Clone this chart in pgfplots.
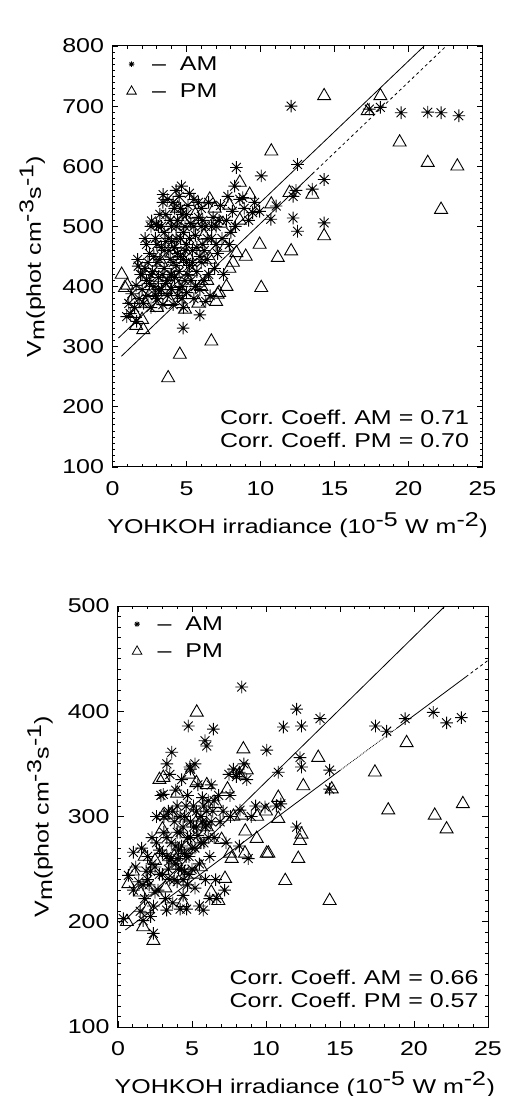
\documentclass[border=0pt]{standalone}
\usepackage{fontspec}
\setmainfont{Liberation Sans}[FakeStretch=1.25]
\usepackage{pgfplots}
\pgfplotsset{compat=1.18}

\pgfdeclareplotmark{ast8}{%
  \pgfpathmoveto{\pgfqpoint{0pt}{\pgfplotmarksize}}%
  \pgfpathlineto{\pgfqpoint{0pt}{-\pgfplotmarksize}}%
  \pgfpathmoveto{\pgfqpoint{\pgfplotmarksize}{0pt}}%
  \pgfpathlineto{\pgfqpoint{-\pgfplotmarksize}{0pt}}%
  \pgfpathmoveto{\pgfqpoint{0.707\pgfplotmarksize}{0.707\pgfplotmarksize}}%
  \pgfpathlineto{\pgfqpoint{-0.707\pgfplotmarksize}{-0.707\pgfplotmarksize}}%
  \pgfpathmoveto{\pgfqpoint{-0.707\pgfplotmarksize}{0.707\pgfplotmarksize}}%
  \pgfpathlineto{\pgfqpoint{0.707\pgfplotmarksize}{-0.707\pgfplotmarksize}}%
  \pgfusepathqstroke}

\pgfplotsset{
  panel/.style={
    scale only axis, width=370pt, height=421pt,
    xmin=0, xmax=25, xtick={0,5,...,25}, minor x tick num=4, minor y tick num=9,
    tick align=inside, tick pos=both, major tick length=6pt, minor tick length=3pt,
    axis line style={line width=1pt}, every tick/.style={black, line width=0.8pt},
    /pgf/number format/assume math mode=true,
    tick label style={font=\fontsize{20}{20}\selectfont},
    xticklabel style={yshift=-11pt},
    yticklabel style={xshift=-5pt},
    label style={font=\fontsize{20}{20}\selectfont},
    xlabel={YOHKOH irradiance\ (10$^{\textrm{-5}}$\ W\ m$^{\textrm{-2}}$)},
    ylabel={V$_{\textrm{m}}$(phot\ cm$^{\textrm{-3}}$s$^{\textrm{-1}}$)},
    legend style={draw=none, fill=none, font=\fontsize{20}{20}\selectfont,
      at={(axis description cs:0.03,0.985)}, anchor=north west, row sep=8pt},
    legend cell align=left,
  },
  am/.style={only marks, mark=ast8, mark size=6.3pt, mark options={solid, line width=0.9pt}, black},
  pm/.style={only marks, mark=triangle, mark size=7.5pt, mark options={solid, line width=0.9pt}, black},
}

\begin{document}
\begin{tikzpicture}
\useasboundingbox (0pt,0pt) rectangle (512pt,1096pt);

% ---------------- E-region ----------------
\begin{axis}[panel, at={(112.5pt,629pt)}, anchor=south west,
  ymin=100, ymax=800, ytick={100,200,...,800},
  xlabel style={at={(axis description cs:0.5,-0.138)}, anchor=center},
  ylabel style={at={(axis description cs:-0.217,0.5)}, anchor=center},
]
\addlegendimage{only marks, mark=ast8, mark size=2.8pt, mark options={line width=0.8pt}, black}
\addlegendentry{\ \ --\ \ AM}
\addlegendimage{only marks, mark=triangle, mark size=5.5pt, mark options={line width=0.8pt}, black}
\addlegendentry{\ \ --\ \ PM}

\addplot[am, forget plot] coordinates {
(12.07,700)(17.35,695)(18.1,698)(19.5,689)(21.3,690)(22.2,689)(23.4,684)
(8.37,598)(10.05,584)(12.5,603)(12.2,550)(13.5,562)(14.3,578)(12.2,514)
(12.5,492)(14.3,506)(10.7,512)(4.66,567)(3.42,553)(2.64,509)(2.3,470)
(1.74,434)(11.06,534)(9.47,523)(8.25,567)(4.77,331)(5.9,353)(0.96,350)
(1.63,342)(12.4,560)(2.98,503)(8.8,548)(9.94,525)
(1.1,372)(1.3,388)(1.5,365)(1.6,402)(1.8,380)(1.9,420)(1.2,355)(1.7,445)
(2.0,395)(2.1,372)(2.2,430)(2.3,410)(2.4,385)(2.5,455)(2.6,365)(2.7,425)(2.8,400)(2.9,480)(2.6,500)(2.2,480)
(3.0,380)(3.0,440)(3.1,415)(3.2,520)(3.3,395)(3.3,465)(3.4,370)(3.5,490)(3.5,430)(3.6,405)(3.7,545)(3.7,385)(3.8,460)(3.9,510)(3.9,420)(3.4,540)(3.1,500)
(4.0,395)(4.0,475)(4.1,440)(4.1,370)(4.2,530)(4.2,415)(4.3,500)(4.4,455)(4.4,385)(4.5,550)(4.5,425)(4.6,480)(4.7,400)(4.7,520)(4.8,445)(4.8,365)(4.9,500)(4.9,410)(4.3,560)
(5.0,470)(5.0,390)(5.1,535)(5.2,435)(5.3,505)(5.3,410)(5.4,460)(5.5,380)(5.5,545)(5.6,485)(5.7,425)(5.8,515)(5.9,450)(5.9,395)(5.2,555)
(6.0,530)(6.1,470)(6.2,410)(6.3,500)(6.4,445)(6.5,540)(6.6,385)(6.7,480)(6.8,515)(6.9,430)(6.3,375)
(7.0,500)(7.1,455)(7.3,535)(7.4,480)(7.5,420)(7.7,510)(7.8,550)(7.9,470)
(8.1,525)(8.3,500)(8.6,545)(8.9,530)(9.2,510)(8.0,490)(9.6,540)
(2.0,420)(2.4,440)(2.5,405)(2.8,450)(2.9,385)(3.0,470)(3.2,445)(3.3,500)(3.5,460)(3.6,520)(3.7,410)(3.8,480)
(3.9,445)(4.0,500)(4.0,420)(4.1,540)(4.2,465)(4.3,435)(4.4,510)(4.5,395)(4.6,450)(4.6,530)(4.8,490)(4.9,460)
(5.0,520)(5.1,420)(5.2,480)(5.4,440)(5.5,500)(5.6,400)(5.7,465)(5.8,540)(6.0,440)(6.1,510)(6.2,460)(6.4,480)
(6.5,420)(6.7,500)(7.0,470)(7.2,510)(3.1,395)(3.4,420)(4.7,380)(2.6,420)(3.6,475)(4.3,480)(5.0,440)(6.0,500)
};
\addplot[pm, forget plot] coordinates {
(14.3,717)(17.24,692)(18.1,717)(19.4,640)(21.3,606)(23.3,600)(22.2,528)
(10.73,625)(11.96,556)(13.5,553)(14.3,484)(9.94,470)(12.07,459)(11.17,448)
(6.57,545)(8.6,573)(9.27,553)(8.37,456)(8.14,440)(0.62,420)(10.05,398)
(7.7,400)(7.1,387)(6.68,309)(4.55,287)(3.76,248)(4.9,362)(2.08,328)
(0.84,398)(1.6,335)(10.73,537)
(1.0,402)(1.3,378)(1.5,355)(2.0,345)(2.2,372)(2.6,390)(2.9,415)(3.3,440)(3.6,395)(4.0,455)(4.3,405)(4.6,470)
(4.9,505)(5.3,425)(5.6,520)(6.0,400)(6.2,485)(6.6,445)(7.0,375)(7.3,505)(7.6,465)(7.9,430)(3.0,365)(5.8,372)
(6.9,530)(4.4,530)(7.9,535)(8.6,510)(9.0,450)(3.9,375)(5.1,450)(6.4,410)(7.2,390)
};
% regression lines
\addplot[black, line width=0.8pt, forget plot] coordinates {(0.4,314.4)(21.06,800)};
\addplot[black, line width=0.8pt, forget plot] coordinates {(0.6,284.1)(13.5,587.3)};
\addplot[black, line width=0.8pt, dashed, forget plot] coordinates {(13.5,587.3)(22.55,800)};

\node[anchor=east, font=\fontsize{20}{20}\selectfont] at (axis description cs:0.973,0.119) {Corr.\ Coeff.\ AM\ =\ 0.71};
\node[anchor=east, font=\fontsize{20}{20}\selectfont] at (axis description cs:0.973,0.064) {Corr.\ Coeff.\ PM\ =\ 0.70};
\node[font=\fontsize{26}{26}\selectfont] at (axis description cs:0.487,1.052) {E--region};
\end{axis}

% ---------------- F-region ----------------
\begin{axis}[panel, at={(118pt,69pt)}, anchor=south west,
  ymin=100, ymax=500, ytick={100,200,...,500},
  xlabel style={at={(axis description cs:0.505,-0.137)}, anchor=center},
  ylabel style={at={(axis description cs:-0.211,0.5)}, anchor=center},
]
\addlegendimage{only marks, mark=ast8, mark size=2.8pt, mark options={line width=0.8pt}, black}
\addlegendentry{\ \ --\ \ AM}
\addlegendimage{only marks, mark=triangle, mark size=5.5pt, mark options={line width=0.8pt}, black}
\addlegendentry{\ \ --\ \ PM}

\addplot[am, forget plot] coordinates {
(8.36,423)(12.07,402)(11.17,385)(12.4,386)(13.65,393)(4.75,386)(6.44,383)
(5.88,372)(6.0,367)(3.63,361)(10.05,363)(12.3,356)(12.4,347)(10.83,342)
(14.3,344)(14.3,326)(17.4,386)(18.15,381)(19.4,393)(21.3,399)(22.2,389)
(23.2,394)(4.86,347)(3.06,321)(7.57,320)(9.93,309)(10.7,310)(8.24,306)
(12.07,290)(1.04,266)(0.7,244)(0.36,203)(1.7,201)(2.39,189)(1.04,230)
(3.29,211)(4.64,212)(5.76,211)(6.67,222)(11.0,312)
(1.2,252)(1.4,238)(1.6,270)(1.8,222)(1.9,248)(1.5,210)
(2.0,262)(2.1,235)(2.3,280)(2.4,215)(2.5,252)(2.6,300)(2.7,230)(2.8,268)(2.9,320)(2.2,205)
(3.0,245)(3.1,285)(3.2,222)(3.3,262)(3.4,305)(3.5,240)(3.5,340)(3.6,275)(3.7,218)(3.8,295)(3.9,255)(3.9,325)(3.3,350)
(4.0,238)(4.0,310)(4.1,268)(4.2,285)(4.3,250)(4.3,335)(4.4,225)(4.5,300)(4.6,262)(4.7,280)(4.7,320)(4.8,245)(4.9,345)(4.9,295)(4.2,212)
(5.0,270)(5.1,310)(5.2,232)(5.3,290)(5.4,330)(5.5,255)(5.6,300)(5.7,318)(5.8,275)(5.9,240)(5.5,215)(5.2,350)
(6.0,292)(6.1,315)(6.2,262)(6.3,330)(6.4,305)(6.5,280)(6.6,240)(6.8,320)(6.9,295)(6.2,222)
(7.1,305)(7.3,275)(7.5,340)(7.6,300)(7.8,345)(8.0,338)(8.2,342)(8.5,350)(8.7,335)(9.0,300)(9.3,310)(7.2,230)(8.2,272)(8.8,260)
(2.0,240)(2.3,255)(2.6,275)(2.8,245)(3.0,265)(3.1,300)(3.3,280)(3.4,250)(3.6,260)(3.7,305)(3.8,240)(4.0,285)
(4.0,260)(4.1,250)(4.2,300)(4.3,272)(4.4,290)(4.5,248)(4.5,265)(4.6,310)(4.7,235)(4.8,262)(4.9,280)(5.0,250)
(5.1,290)(5.2,270)(5.3,305)(5.4,282)(5.6,275)(5.7,295)(5.8,310)(5.9,290)(6.0,305)(6.1,280)(6.3,295)(6.5,315)
(3.5,258)(3.9,272)(4.4,240)(2.5,228)(1.7,235)(2.2,248)
};
\addplot[pm, forget plot] coordinates {
(5.32,399)(8.47,364)(13.53,356)(12.52,329)(17.36,342)(19.5,370)(3.06,337)
(10.83,318)(14.44,326)(18.26,306)(21.4,301)(23.3,312)(8.7,344)(22.2,288)
(14.3,220)(11.3,239)(10.05,265)(12.18,260)(12.3,277)(12.4,283)(9.37,279)
(8.36,301)(7.57,265)(8.58,265)(7.23,241)(6.78,220)(10.83,298)(2.39,182)
(0.7,236)(0.6,200)(1.7,195)(3.06,301)(7.68,260)(10.16,265)
(1.0,248)(1.5,228)(2.0,212)(2.5,258)(3.0,288)(3.2,232)(3.6,302)(4.0,322)(4.4,218)(4.6,272)(5.0,300)
(5.3,332)(5.6,252)(6.0,290)(6.3,228)(6.6,312)(7.0,278)(7.4,326)(7.8,300)(8.2,340)(8.6,286)(9.4,300)
(10.0,305)(2.8,335)(4.8,340)(6.0,330)(3.8,262)(5.2,245)(1.8,262)
};
% regression lines
\addplot[black, line width=0.8pt, forget plot] coordinates {(0.5,201.9)(22.1,500)};
\addplot[black, line width=0.8pt, forget plot] coordinates {(0.5,192.2)(15,343.8)};
\addplot[black, line width=0.8pt, densely dotted, forget plot] coordinates {(15,343.8)(18.8,383.5)};
\addplot[black, line width=0.8pt, forget plot] coordinates {(18.8,383.5)(23.5,432.6)};
\addplot[black, line width=0.8pt, dashed, forget plot] coordinates {(23.5,432.6)(25,448.3)};

\node[anchor=east, font=\fontsize{20}{20}\selectfont] at (axis description cs:0.984,0.118) {Corr.\ Coeff.\ AM\ =\ 0.66};
\node[anchor=east, font=\fontsize{20}{20}\selectfont] at (axis description cs:0.984,0.064) {Corr.\ Coeff.\ PM\ =\ 0.57};
\node[font=\fontsize{26}{26}\selectfont] at (axis description cs:0.489,1.052) {F--region};
\end{axis}
\end{tikzpicture}
\end{document}
